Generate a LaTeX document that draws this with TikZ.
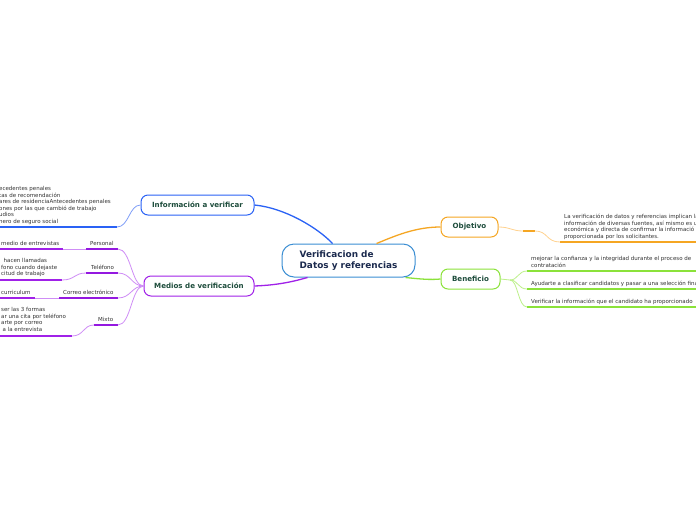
\documentclass[tikz,border=0pt]{standalone}
\usepackage{fontspec}
\setmainfont{DejaVu Sans}
\usetikzlibrary{calc}
\definecolor{cblue}{HTML}{3B8ED3}
\definecolor{iblue}{HTML}{2A62F5}
\definecolor{ilight}{HTML}{7F9EF8}
\definecolor{mpurp}{HTML}{A021E8}
\definecolor{mdark}{HTML}{9418E0}
\definecolor{mlight}{HTML}{CF8DF6}
\definecolor{oorange}{HTML}{F5A623}
\definecolor{olight}{HTML}{FFD391}
\definecolor{bgreen}{HTML}{8BE23A}
\definecolor{glight}{HTML}{BDF08A}
\definecolor{navy}{HTML}{1B2A4E}
\definecolor{tgreen}{HTML}{1E4D3C}
\definecolor{leafc}{HTML}{333333}
\tikzset{
  topic/.style={draw, line width=1pt, rounded corners=7pt, fill=white,
    font=\fontsize{7.1}{8.5}\selectfont\bfseries, text=tgreen, inner sep=0pt,
    minimum height=20pt},
  leaftext/.style={anchor=base west, inner sep=0pt, align=left,
    font=\fontsize{5.5}{6.5}\selectfont, text=leafc},
  subtext/.style={anchor=base west, inner sep=0pt,
    font=\fontsize{5.5}{6.5}\selectfont, text=leafc},
  mainline/.style={line width=1.3pt},
  thinline/.style={line width=0.8pt},
  uline/.style={line width=2pt},
}
\begin{document}
\begin{tikzpicture}[x=1pt,y=-1pt]
\useasboundingbox (0,0) rectangle (696,520);
\clip (0,0) rectangle (696,520);
\fill[white] (0,0) rectangle (696,520);

% central and main topics
\node[draw=cblue, line width=1pt, rounded corners=12pt, fill=white,
  minimum width=133pt, minimum height=33pt, inner sep=0pt, align=left,
  text=navy, font=\fontsize{8.9}{10.7}\selectfont\bfseries]
  (c) at (348.5,260.5) {Verificacion de\\Datos y referencias};
\node[topic, draw=iblue, minimum width=113pt] (info) at (197.5,205) {Información a verificar};
\node[topic, draw=mpurp, minimum width=110pt] (med) at (199,286) {Medios de verificación};
\node[topic, draw=oorange, minimum width=57pt] (obj) at (469.5,227) {Objetivo};
\node[topic, draw=bgreen, minimum width=59pt] (ben) at (470.5,279) {Beneficio};

% central connectors
\draw[iblue, mainline] ($(c.north west)+(51,0)$) .. controls (318,228) and (285,208) .. (info.east);
\draw[mpurp, mainline] ($(c.south west)+(26,0)$) .. controls (295,281) and (280,285) .. (med.east);
\draw[oorange, mainline] ($(c.north west)+(95,0)$) .. controls (395,236) and (415,227) .. (obj.west);
\draw[bgreen, mainline] ($(c.south east)+(-10,0)$) .. controls (420,279) and (430,280) .. (ben.west);

% Informacion a verificar
\node[leaftext] (infotxt) at (-1,223) {ecedentes penales\\tas de recomendación\\ares de residenciaAntecedentes penales\\ones por las que cambió de trabajo\\udios\\nero de seguro social};
\coordinate (iu0) at (-2,227);
\coordinate (iu1) at (117,227);
\draw[iblue, uline] (iu0) -- (iu1);
\draw[ilight, thinline] (iu1) .. controls (129,227) and (129,205) .. (info.west);

% Medios de verificacion: sub topics
\node[subtext] (pers) at (90,245) {Personal};
\node[subtext] (tel) at (91,269) {Teléfono};
\node[subtext] (corr) at (63,294) {Correo electrónico};
\node[subtext] (mix) at (98,321) {Mixto};
\coordinate (pu0) at (86,249); \coordinate (pu1) at (118,249);
\coordinate (tu0) at (86,273); \coordinate (tu1) at (118,273);
\coordinate (cu0) at (59,298); \coordinate (cu1) at (118,298);
\coordinate (xu0) at (94,325); \coordinate (xu1) at (118,325);
\draw[mdark, uline] (pu0) -- (pu1);
\draw[mdark, uline] (tu0) -- (tu1);
\draw[mdark, uline] (cu0) -- (cu1);
\draw[mdark, uline] (xu0) -- (xu1);
\foreach \p in {pu1,tu1,cu1,xu1}
  \draw[mlight, thinline] (\p) .. controls ($(\p)+(13,0)$) and ($(med.west)+(-12,0)$) .. (med.west);

% Medios: leaves
\node[leaftext] (ptxt) at (1,245) {medio de entrevistas};
\node[leaftext] (ttxt) at (1,275.7) {\hspace*{2.5pt}hacen llamadas\\fono cuando dejaste\\citud de trabajo};
\node[leaftext] (ctxt) at (1,294) {curriculum};
\node[leaftext] (xtxt) at (1,331.3) {ser las 3 formas\\ar una cita por teléfono\\arte por correo\\\hspace*{1.5pt}a la entrevista};
\coordinate (pl0) at (-2,249); \coordinate (pl1) at (63,249);
\coordinate (tl0) at (-2,280); \coordinate (tl1) at (62,280);
\coordinate (cl0) at (-2,298); \coordinate (cl1) at (35,298);
\coordinate (xl0) at (-2,336); \coordinate (xl1) at (72,336);
\draw[mpurp, uline] (pl0) -- (pl1);
\draw[mpurp, uline] (tl0) -- (tl1);
\draw[mpurp, uline] (cl0) -- (cl1);
\draw[mpurp, uline] (xl0) -- (xl1);
\draw[mlight, thinline] (pl1) -- (pu0);
\draw[mlight, thinline] (tl1) .. controls (75,280) and (74,273) .. (tu0);
\draw[mlight, thinline] (cl1) -- (cu0);
\draw[mlight, thinline] (xl1) .. controls (84,336) and (83,325) .. (xu0);

% Objetivo
\node[leaftext] (otxt) at (564,238) {La verificación de datos y referencias implican la\\información de diversas fuentes, así mismo es u\\económica y directa de confirmar la informació\\proporcionada por los solicitantes.};
\coordinate (ou0) at (560,242); \coordinate (ou1) at (698,242);
\coordinate (om0) at (523,231); \coordinate (om1) at (535,231);
\draw[oorange, uline] (ou0) -- (ou1);
\draw[olight, thinline] (obj.east) .. controls (510,227) and (512,231) .. (om0);
\draw[oorange, line width=1.6pt] (om0) -- (om1);
\draw[olight, thinline] (om1) .. controls (548,231) and (546,242) .. (ou0);

% Beneficio
\node[leaftext] (b1) at (531,267.3) {mejorar la confianza y la integridad durante el proceso de\\contratación};
\node[leaftext] (b2) at (531,285.3) {Ayudarte a clasificar candidatos y pasar a una selección final};
\node[leaftext] (b3) at (531,303) {Verificar la información que el candidato ha proporcionado};
\coordinate (bj) at (510,280);
\coordinate (b1u) at (527,271); \coordinate (b2u) at (527,289); \coordinate (b3u) at (527,307);
\draw[bgreen, uline] (b1u) -- (698,271);
\draw[bgreen, uline] (b2u) -- (698,289);
\draw[bgreen, uline] (b3u) -- (698,307);
\draw[glight, thinline] (ben.east) -- (bj);
\foreach \q in {b1u,b2u,b3u}
  \draw[glight, thinline] (bj) .. controls (518,280) and ($(\q)+(-9,0)$) .. (\q);
\end{tikzpicture}
\end{document}
